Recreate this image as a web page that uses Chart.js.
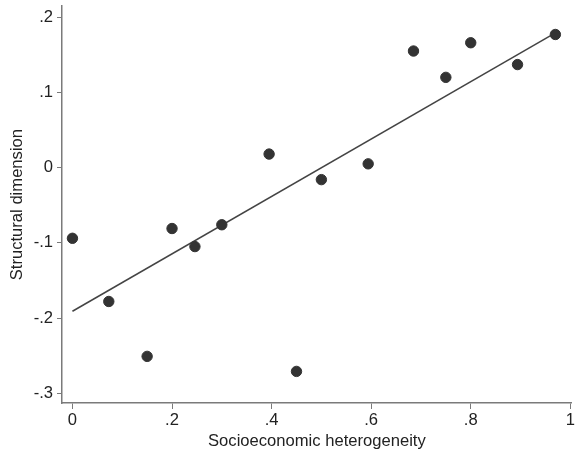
<!DOCTYPE html>
<html>
<head>
<meta charset="utf-8">
<script src="https://cdn.jsdelivr.net/npm/chart.js@4"></script>
<style>
  html, body { margin: 0; padding: 0; background: #fff; }
  #wrap { width: 578px; height: 454px; }
</style>
</head>
<body>
<div id="wrap"><canvas id="scatterChart"></canvas></div>
<script>
// values
const heterogeneity = [0, 0.073, 0.15, 0.2, 0.246, 0.3, 0.395, 0.45, 0.5, 0.594, 0.685, 0.75, 0.8, 0.894, 0.97];
const structural = [-0.094, -0.178, -0.251, -0.081, -0.105, -0.076, 0.018, -0.271, -0.016, 0.005, 0.155, 0.120, 0.166, 0.137, 0.177];

// fitted line end points
const fitX = [0, 0.97];
const fitY = [-0.191, 0.179];

const xTicks = [0, 0.2, 0.4, 0.6, 0.8, 1];
const yTicks = [-0.3, -0.2, -0.1, 0, 0.1, 0.2];

const FONT = "'Liberation Sans', Arial, sans-serif";
const AXIS = "#7a7a7a";

// Stata style labels: ".2", "-.1"
function stataLabel(v) {
  const r = Math.round(v * 10) / 10;
  if (r === 0) return "0";
  return String(r).replace("0.", ".");
}

const points = heterogeneity.map((x, i) => ({ x: x, y: structural[i] }));
const fitLine = fitX.map((x, i) => ({ x: x, y: fitY[i] }));

new Chart(document.getElementById("scatterChart"), {
  type: "scatter",
  data: {
    datasets: [
      {
        label: "Structural dimension",
        data: points,
        backgroundColor: "#333333",
        borderColor: "#333333",
        pointRadius: 5.2,
        pointHoverRadius: 5.2,
      },
      {
        label: "Fitted values",
        data: fitLine,
        showLine: true,
        borderColor: "#444444",
        borderWidth: 1.5,
        pointRadius: 0,
        fill: false,
      },
    ],
  },
  options: {
    responsive: true,
    maintainAspectRatio: false,
    animation: false,
    layout: { padding: { top: 5, right: 4, left: 0, bottom: 0 } },
    plugins: {
      legend: { display: false },
      tooltip: { enabled: false },
    },
    scales: {
      x: {
        type: "linear",
        min: -0.021,
        max: 1.003,
        afterFit: (s) => {
          s.height = 51;
          s.paddingLeft = 0;
          s.paddingRight = 0;
        },
        afterBuildTicks: (s) => { s.ticks = xTicks.map((v) => ({ value: v })); },
        border: { display: true, color: AXIS, width: 1.5 },
        grid: { display: true, drawOnChartArea: false, drawTicks: true, tickLength: 6, color: AXIS, tickColor: AXIS },
        ticks: {
          color: "#222",
          padding: 1,
          font: { family: FONT, size: 16.6 },
          callback: (v) => stataLabel(v),
        },
        title: {
          display: true,
          text: "Socioeconomic heterogeneity",
          color: "#222",
          font: { family: FONT, size: 16.6 },
          padding: { top: 0, bottom: 3 },
        },
      },
      y: {
        type: "linear",
        min: -0.313,
        max: 0.2146,
        afterFit: (s) => {
          s.width = 62;
          s.paddingTop = 0;
          s.paddingBottom = 0;
        },
        afterBuildTicks: (s) => { s.ticks = yTicks.map((v) => ({ value: v })); },
        border: { display: true, color: AXIS, width: 1.5 },
        grid: { display: true, drawOnChartArea: false, drawTicks: true, tickLength: 5, color: AXIS, tickColor: AXIS },
        ticks: {
          color: "#222",
          padding: 4,
          font: { family: FONT, size: 16.6 },
          callback: (v) => stataLabel(v),
        },
        title: {
          display: true,
          text: "Structural dimension",
          color: "#222",
          font: { family: FONT, size: 16.6 },
          padding: { top: 7, bottom: 0 },
        },
      },
    },
  },
});
</script>
</body>
</html>
